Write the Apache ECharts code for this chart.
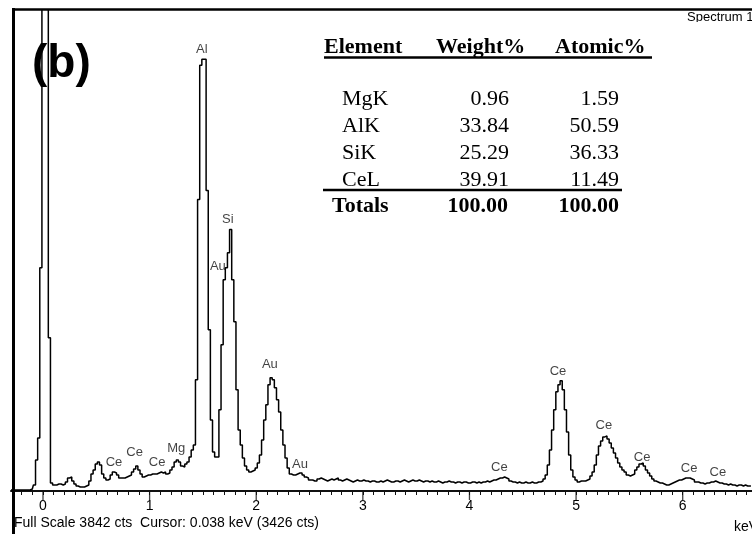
<!DOCTYPE html>
<html><head><meta charset="utf-8">
<script src="https://cdn.jsdelivr.net/npm/echarts@6/dist/echarts.min.js"></script>
<style>html,body{margin:0;padding:0;background:#fff}#c{width:752px;height:534px}</style>
</head><body><div id="c"></div>
<script>
// Spectrum calibration: channel centre energies (keV)
const E0 = -0.30, dE = 0.02;
// Counts per channel (E = -0.30 ... 6.64 keV)
const counts = [
  8,8,8,8,8,8,8,8,8,8,16,
  48,248,424,1784,6000,6000,6000,1224,64,
  48,48,56,56,48,56,72,104,112,80,
  56,40,32,32,32,40,48,80,136,168,
  216,232,208,136,104,88,96,128,152,144,
  128,104,104,104,112,120,128,152,176,200,
  168,136,112,120,128,128,136,136,136,144,
  152,144,152,136,144,168,192,232,248,232,
  200,192,216,232,272,328,
  368,888,2328,3400,3448,3448,2400,1288,568,312,
  272,272,648,1168,1688,1784,1904,2088,1688,1352,
  808,488,368,264,200,168,152,160,168,184,
  224,288,408,568,688,848,904,888,824,728,
  632,488,368,264,184,136,128,128,136,144,
  144,128,112,104,
  88,88,80,80,96,104,96,88,80,88,
  96,88,96,104,88,80,88,96,88,80,
  72,80,88,80,80,88,80,80,72,80,
  80,72,72,80,72,80,88,80,72,72,
  80,80,72,80,88,80,72,80,88,80,
  80,88,80,72,80,80,72,80,72,72,
  80,72,64,72,72,80,72,72,64,72,
  72,64,72,72,64,64,72,72,64,72,
  64,72,72,80,72,80,88,88,96,104,
  104,112,104,96,80,72,72,64,72,64,
  64,72,64,64,72,64,64,72,
  72,80,96,128,208,328,488,648,792,848,880,808,648,472,288,168,112,88,72,80,80,
  80,88,96,120,152,208,288,360,400,432,
  440,416,384,344,304,264,224,192,168,152,
  128,120,128,136,168,192,216,224,200,168,
  144,120,96,80,72,64,64,56,48,48,
  56,64,72,80,88,88,96,104,104,104,
  96,88,72,72,64,64,56,64,64,72,
  72,80,72,64,64,56,56,48,56,48,
  48,40,48,48,40,48,40,40,40
];
const fullScale = 3842;
const tickValues = [0, 1, 2, 3, 4, 5, 6];
const tickLabels = ['0', '1', '2', '3', '4', '5', '6'];
// Peak labels: [text, energy keV, counts level of label]
const peakLabels = [
  ['Al', 1.49, 3528], ['Si', 1.734, 2168], ['Au', 1.64, 1792], ['Au', 2.128, 1008],
  ['Au', 2.41, 216], ['Ce', 0.666, 232], ['Ce', 0.86, 312], ['Ce', 1.07, 232],
  ['Mg', 1.25, 344], ['Ce', 4.28, 192], ['Ce', 4.83, 952], ['Ce', 5.26, 520],
  ['Ce', 5.62, 272], ['Ce', 6.06, 184], ['Ce', 6.33, 152]
];
// Quantification table
const tableHeader = ['Element', 'Weight%', 'Atomic%'];
const elements = ['MgK', 'AlK', 'SiK', 'CeL'];
const weightPct = ['0.96', '33.84', '25.29', '39.91'];
const atomicPct = ['1.59', '50.59', '36.33', '11.49'];
const totals = ['Totals', '100.00', '100.00'];

const chart = echarts.init(document.getElementById('c'), null, {renderer: 'canvas'});
const spec = counts.map((c, i) => [+(E0 + i * dE).toFixed(2), c]);

const serif = '"Liberation Serif", "Times New Roman", serif';
const sans = '"Liberation Sans", Arial, sans-serif';
const g = [];
g.push({type: 'text', z: 10, style: {text: 'Spectrum 1', x: 687, y: 11, font: '13px ' + sans, fill: '#000', textVerticalAlign: 'top'}});
g.push({type: 'rect', z: 10, shape: {x: 305, y: 22, width: 447, height: 280}, style: {fill: '#fff'}});
g.push({type: 'line', z: 20, shape: {x1: 13.5, y1: 8, x2: 13.5, y2: 534}, style: {stroke: '#000', lineWidth: 3}});
g.push({type: 'line', z: 20, shape: {x1: 12, y1: 9.5, x2: 752, y2: 9.5}, style: {stroke: '#000', lineWidth: 2.5}});
g.push({type: 'text', z: 12, style: {text: '(b)', x: 32, y: 64, font: 'bold 46px ' + sans, fill: '#000', textVerticalAlign: 'middle'}});
// table
const colX = [324, 436, 555];
tableHeader.forEach((t, i) => g.push({type: 'text', z: 12, style: {text: t, x: colX[i], y: 47.5, font: 'bold 22px ' + serif, fill: '#000', textVerticalAlign: 'middle'}}));
g.push({type: 'line', z: 12, shape: {x1: 324, y1: 57.5, x2: 652, y2: 57.5}, style: {stroke: '#000', lineWidth: 2.5}});
const rowY = [99.5, 126.5, 153.5, 180.5];
elements.forEach((t, i) => {
  g.push({type: 'text', z: 12, style: {text: t, x: 342, y: rowY[i], font: '22px ' + serif, fill: '#000', textVerticalAlign: 'middle'}});
  g.push({type: 'text', z: 12, style: {text: weightPct[i], x: 509, y: rowY[i], font: '22px ' + serif, fill: '#000', textAlign: 'right', textVerticalAlign: 'middle'}});
  g.push({type: 'text', z: 12, style: {text: atomicPct[i], x: 619, y: rowY[i], font: '22px ' + serif, fill: '#000', textAlign: 'right', textVerticalAlign: 'middle'}});
});
g.push({type: 'line', z: 12, shape: {x1: 323, y1: 190, x2: 622, y2: 190}, style: {stroke: '#000', lineWidth: 2.5}});
g.push({type: 'text', z: 12, style: {text: totals[0], x: 332, y: 206.5, font: 'bold 22px ' + serif, fill: '#000', textVerticalAlign: 'middle'}});
g.push({type: 'text', z: 12, style: {text: totals[1], x: 508, y: 206.5, font: 'bold 22px ' + serif, fill: '#000', textAlign: 'right', textVerticalAlign: 'middle'}});
g.push({type: 'text', z: 12, style: {text: totals[2], x: 619, y: 206.5, font: 'bold 22px ' + serif, fill: '#000', textAlign: 'right', textVerticalAlign: 'middle'}});
// bottom texts
g.push({type: 'text', z: 12, style: {text: 'Full Scale 3842 cts  Cursor: 0.038 keV (3426 cts)', x: 14, y: 523, font: '14px ' + sans, fill: '#000', textVerticalAlign: 'middle'}});
g.push({type: 'text', z: 12, style: {text: 'keV', x: 734, y: 527, font: '14px ' + sans, fill: '#000', textVerticalAlign: 'middle'}});

const option = {
  animation: false,
  backgroundColor: '#fff',
  grid: {left: 11, right: 0, top: 10, bottom: 43},
  xAxis: {
    type: 'value', min: -0.3, max: 6.65, interval: 0.1,
    axisLine: {onZero: false, lineStyle: {color: '#111', width: 2}},
    axisTick: {length: 4, lineStyle: {color: '#111', width: 1}},
    splitLine: {show: false},
    axisLabel: {
      margin: 8, fontFamily: sans, fontSize: 14, color: '#000',
      showMinLabel: false, showMaxLabel: false,
      formatter: v => { const r = Math.round(v); const k = tickValues.indexOf(r); return (Math.abs(v - r) < 1e-6 && k >= 0) ? tickLabels[k] : ''; }
    }
  },
  yAxis: {type: 'value', min: 0, max: fullScale, show: false},
  series: [
    {type: 'line', step: 'middle', data: spec, showSymbol: false, symbol: 'none', lineStyle: {color: '#000', width: 1.5}, clip: true, z: 3, silent: true},
    {type: 'scatter', data: tickValues.map(v => [v, 0]), symbol: 'rect', symbolSize: [1.3, 9], symbolOffset: [0, 4.5], itemStyle: {color: '#111'}, clip: false, silent: true, z: 4},
    {type: 'scatter', data: peakLabels.map(p => ({value: [p[1], p[2]], name: p[0]})), symbolSize: 1, itemStyle: {color: 'rgba(0,0,0,0)'},
      label: {show: true, position: 'inside', formatter: '{b}', fontFamily: sans, fontSize: 13, color: '#111'}, clip: false, silent: true, z: 5}
  ],
  graphic: g
};
chart.setOption(option);
</script></body></html>
